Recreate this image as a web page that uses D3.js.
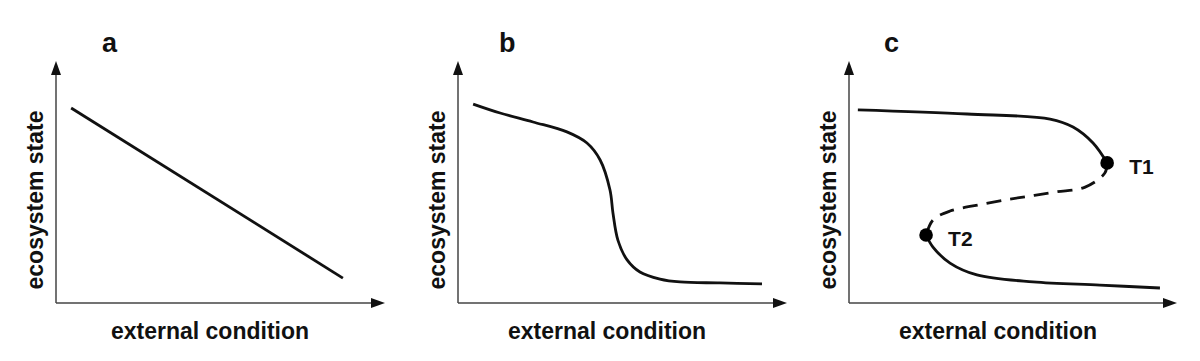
<!DOCTYPE html>
<html>
<head>
<meta charset="utf-8">
<script src="https://cdn.jsdelivr.net/npm/d3@7"></script>
<style>
  html, body { margin: 0; padding: 0; background: #fff; }
  svg { display: block; }
  text { font-family: "Liberation Sans", Arial, Helvetica, sans-serif; font-weight: bold; fill: #111; }
</style>
</head>
<body>
<svg id="chart" width="1200" height="361"></svg>
<script>
// ---- data (x: external condition 0-100, y: ecosystem state 0-100) ----
const panelLetters = ["a", "b", "c"];
const xAxisLabel = "external condition";
const yAxisLabel = "ecosystem state";

const curveA = [[4.6, 80.6], [87.2, 10.3]];

const curveB = [
  [4.6, 82.2], [12.8, 78.5], [22.8, 74.8], [33.1, 70.7], [39.2, 66.1],
  [43.2, 59.1], [46.2, 46.7], [47.1, 37.2], [48.6, 26.0], [51.4, 17.8],
  [55.3, 12.8], [61.4, 9.9], [67.5, 8.7], [79.6, 8.3], [92.4, 7.9]
];

const curveCUpper = [
  [2.7, 79.8], [36.0, 78.1], [61.3, 76.0], [68.3, 72.7], [74.4, 66.1], [78.7, 57.9]
];
const curveCMiddle = [
  [78.7, 57.9], [78.0, 53.7], [72.0, 47.9], [63.1, 45.9], [55.2, 44.2],
  [47.6, 42.6], [39.3, 40.5], [30.8, 38.0], [25.6, 34.3], [23.5, 28.1]
];
const curveCLower = [
  [23.5, 28.1], [25.6, 23.1], [30.8, 16.5], [39.0, 11.6], [56.1, 8.7],
  [76.5, 7.4], [94.8, 6.2]
];
const tippingPoints = [
  { name: "T1", x: 78.7, y: 57.9 },
  { name: "T2", x: 23.5, y: 28.1 }
];

// ---- layout ----
const svg = d3.select("#chart");
const originY = 303, topY = 61;
const panels = [
  { ox: 56,  tip: 385,  letterX: 102, xLabelX: 210, curves: [{ pts: curveA, dashed: false }], points: [] },
  { ox: 458, tip: 787,  letterX: 499, xLabelX: 607, curves: [{ pts: curveB, dashed: false }], points: [] },
  { ox: 849, tip: 1177, letterX: 884, xLabelX: 998, curves: [
      { pts: curveCUpper, dashed: false },
      { pts: curveCMiddle, dashed: true },
      { pts: curveCLower, dashed: false }
    ], points: tippingPoints }
];

const arrowLen = 14, arrowHalf = 5;

panels.forEach((p, i) => {
  const x = d3.scaleLinear().domain([0, 100]).range([p.ox, p.tip]);
  const y = d3.scaleLinear().domain([0, 100]).range([originY, topY]);
  const g = svg.append("g");

  // axes
  g.append("line")
    .attr("x1", x(0)).attr("y1", y(0)).attr("x2", x(100) - arrowLen + 2).attr("y2", y(0))
    .attr("stroke", "#444").attr("stroke-width", 1.5);
  g.append("line")
    .attr("x1", x(0)).attr("y1", y(0)).attr("x2", x(0)).attr("y2", y(100) + arrowLen - 2)
    .attr("stroke", "#444").attr("stroke-width", 1.5);
  g.append("path")
    .attr("d", `M${x(100)},${y(0)}L${x(100) - arrowLen},${y(0) - arrowHalf}L${x(100) - arrowLen},${y(0) + arrowHalf}Z`)
    .attr("fill", "#111");
  g.append("path")
    .attr("d", `M${x(0)},${y(100)}L${x(0) - arrowHalf},${y(100) + arrowLen}L${x(0) + arrowHalf},${y(100) + arrowLen}Z`)
    .attr("fill", "#111");

  // curves
  const line = d3.line().x(d => x(d[0])).y(d => y(d[1])).curve(d3.curveCatmullRom.alpha(0.5));
  p.curves.forEach(c => {
    g.append("path")
      .attr("d", line(c.pts))
      .attr("fill", "none")
      .attr("stroke", "#111")
      .attr("stroke-width", 2.8)
      .attr("stroke-dasharray", c.dashed ? "15,9" : null);
  });

  // tipping points
  p.points.forEach(pt => {
    g.append("circle").attr("cx", x(pt.x)).attr("cy", y(pt.y)).attr("r", 6.8).attr("fill", "#000");
    g.append("text").attr("x", x(pt.x) + 22).attr("y", y(pt.y) + 11)
      .attr("font-size", 21).text(pt.name);
  });

  // labels
  g.append("text").attr("x", p.letterX).attr("y", 52).attr("font-size", 27).text(panelLetters[i]);
  g.append("text").attr("x", p.xLabelX).attr("y", 339).attr("text-anchor", "middle")
    .attr("font-size", 23).text(xAxisLabel);
  g.append("text")
    .attr("transform", `translate(${p.ox - 13},200) rotate(-90)`)
    .attr("text-anchor", "middle").attr("font-size", 23).text(yAxisLabel);
});
</script>
</body>
</html>
